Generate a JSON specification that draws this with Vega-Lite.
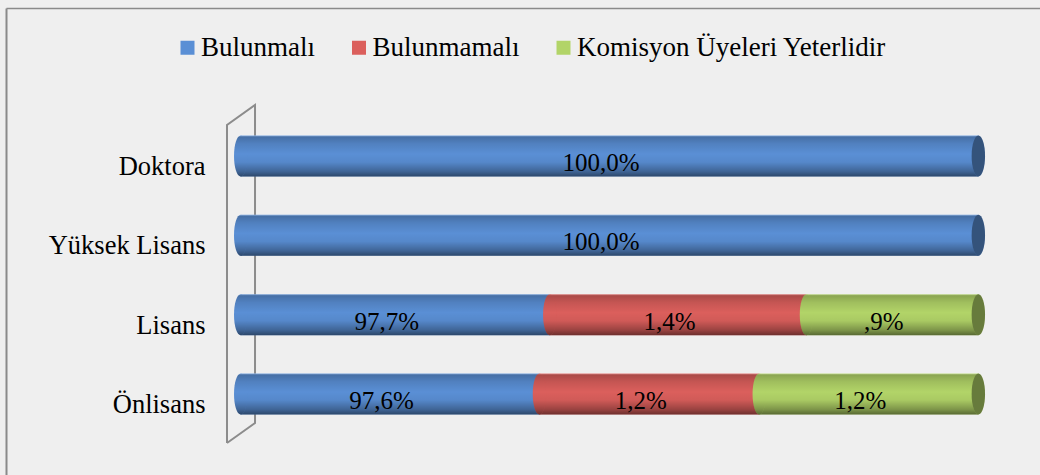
{
  "$schema": "https://vega.github.io/schema/vega-lite/v6.json",
  "autosize": {"type": "none"},
  "width": 1034,
  "height": 467,
  "padding": {"left": 6, "top": 8, "right": 0, "bottom": 0},
  "background": "#efefef",
  "config": {"view": {"stroke": null}, "font": "Liberation Serif"},
  "datasets": {
    "bars": [
      {"level": "Doktora", "series": "Bulunmalı", "length": 100, "label": "100,0%"},
      {"level": "Yüksek Lisans", "series": "Bulunmalı", "length": 100, "label": "100,0%"},
      {"level": "Lisans", "series": "Bulunmalı", "length": 41.9, "label": "97,7%"},
      {"level": "Lisans", "series": "Bulunmamalı", "length": 34.8, "label": "1,4%"},
      {"level": "Lisans", "series": "Komisyon Üyeleri Yeterlidir", "length": 23.3, "label": ",9%"},
      {"level": "Önlisans", "series": "Bulunmalı", "length": 40.5, "label": "97,6%"},
      {"level": "Önlisans", "series": "Bulunmamalı", "length": 29.8, "label": "1,2%"},
      {"level": "Önlisans", "series": "Komisyon Üyeleri Yeterlidir", "length": 29.7, "label": "1,2%"}
    ],
    "wall": [
      {"ord": 1, "wx": -1.86, "wy": 0.0685},
      {"ord": 2, "wx": -1.86, "wy": 0.7495},
      {"ord": 3, "wx": 1.94, "wy": 0.7923},
      {"ord": 4, "wx": 1.94, "wy": 0.1113},
      {"ord": 5, "wx": -1.86, "wy": 0.0685}
    ]
  },
  "resolve": {"scale": {"y": "independent"}, "axis": {"y": "independent"}},
  "layer": [
    {
      "data": {"name": "wall"},
      "mark": {"type": "line", "stroke": "#8c8c8c", "strokeWidth": 2},
      "encoding": {
        "x": {"field": "wx", "type": "quantitative", "scale": {"domain": [-31.82, 108.36], "nice": false, "zero": false},
              "axis": {"orient": "top", "title": null, "labels": false, "ticks": false, "grid": false, "domain": true, "domainColor": "#8a8a8a", "domainWidth": 1.5}},
        "y": {"field": "wy", "type": "quantitative", "scale": {"domain": [0, 1], "nice": false, "zero": false}, "axis": null},
        "order": {"field": "ord", "type": "quantitative"}
      }
    },
    {
      "data": {"name": "bars"},
      "transform": [
        {"stack": "length", "groupby": ["level"], "sort": [{"field": "series", "order": "ascending"}], "as": ["x0", "x1"]},
        {"calculate": "(datum.x0 + datum.x1) / 2", "as": "xm"}
      ],
      "encoding": {
        "y": {"field": "level", "type": "nominal",
              "scale": {"type": "band", "domain": ["Doktora", "Yüksek Lisans", "Lisans", "Önlisans"], "paddingInner": 0.113, "paddingOuter": 1, "align": 0.711},
              "axis": {"orient": "left", "title": null, "domain": true, "domainColor": "#8a8a8a", "domainWidth": 2, "ticks": false, "tickSize": 0, "grid": false,
                       "labelPadding": -199, "labelFont": "Liberation Serif", "labelFontSize": 26.5, "labelColor": "#000000", "labelBaseline": "alphabetic", "labelOffset": 19, "labelAlign": "right", "labelLimit": 0}}
      },
      "layer": [
        {
          "mark": {"type": "bar", "stroke": null, "opacity": 1, "height": {"band": 0.5826}},
          "encoding": {
            "x": {"field": "x0", "type": "quantitative", "scale": {"domain": [-31.82, 108.36], "nice": false, "zero": false},
                  "axis": {"orient": "top", "title": null, "labels": false, "ticks": false, "grid": false, "domain": true, "domainColor": "#8a8a8a", "domainWidth": 1.5}},
            "x2": {"field": "x1"},
            "color": {"field": "series", "type": "nominal",
                      "scale": {"domain": ["Bulunmalı", "Bulunmamalı", "Komisyon Üyeleri Yeterlidir"], "range": ["#5a8fd5", "#db5f5c", "#b2d468"]},
                      "legend": {"orient": "none", "legendX": 168, "legendY": 26, "direction": "horizontal", "columns": 3, "title": null,
                                 "symbolType": "square", "symbolSize": 196, "symbolStrokeWidth": 0, "symbolOpacity": 1,
                                 "labelFont": "Liberation Serif", "labelFontSize": 27, "labelColor": "#000000", "labelOffset": 0, "labelLimit": 0, "columnPadding": 30.5, "padding": 0}}
          }
        },
        {
          "mark": {"type": "bar", "stroke": null, "opacity": 1, "height": {"band": 0.5826},
                   "fill": {"gradient": "linear", "x1": 0, "y1": 0, "x2": 0, "y2": 1,
                            "stops": [
                              {"offset": 0, "color": "rgba(255,255,255,0.35)"},
                              {"offset": 0.04, "color": "rgba(0,0,0,0.22)"},
                              {"offset": 0.2, "color": "rgba(0,0,0,0.1)"},
                              {"offset": 0.45, "color": "rgba(0,0,0,0)"},
                              {"offset": 0.65, "color": "rgba(0,0,0,0.05)"},
                              {"offset": 0.88, "color": "rgba(0,0,0,0.3)"},
                              {"offset": 1, "color": "rgba(0,0,0,0.5)"}]}},
          "encoding": {
            "x": {"field": "x0", "type": "quantitative"},
            "x2": {"field": "x1"}
          }
        },
        {
          "mark": {"type": "point", "shape": "M 0.327 0 C 0.327 0.5523 0.1806 1 0 1 C -0.1806 1 -0.327 0.5523 -0.327 0 C -0.327 -0.5523 -0.1806 -1 0 -1 C 0.1806 -1 0.327 -0.5523 0.327 0 Z",
                   "size": 1681, "filled": true, "opacity": 1, "strokeWidth": 0},
          "encoding": {
            "x": {"field": "x0", "type": "quantitative"},
            "color": {"field": "series", "type": "nominal"}
          }
        },
        {
          "mark": {"type": "point", "shape": "M 0.327 0 C 0.327 0.5523 0.1806 1 0 1 C -0.1806 1 -0.327 0.5523 -0.327 0 C -0.327 -0.5523 -0.1806 -1 0 -1 C 0.1806 -1 0.327 -0.5523 0.327 0 Z",
                   "size": 1681, "filled": true, "opacity": 1, "strokeWidth": 0,
                   "fill": {"gradient": "linear", "x1": 0, "y1": 0, "x2": 0, "y2": 1,
                            "stops": [
                              {"offset": 0, "color": "rgba(255,255,255,0.35)"},
                              {"offset": 0.04, "color": "rgba(0,0,0,0.22)"},
                              {"offset": 0.2, "color": "rgba(0,0,0,0.1)"},
                              {"offset": 0.45, "color": "rgba(0,0,0,0)"},
                              {"offset": 0.65, "color": "rgba(0,0,0,0.05)"},
                              {"offset": 0.88, "color": "rgba(0,0,0,0.3)"},
                              {"offset": 1, "color": "rgba(0,0,0,0.5)"}]}},
          "encoding": {
            "x": {"field": "x0", "type": "quantitative"}
          }
        },
        {
          "transform": [{"filter": "datum.x1 > 99.9"}],
          "mark": {"type": "point", "shape": "M 0.327 0 C 0.327 0.5523 0.1806 1 0 1 C -0.1806 1 -0.327 0.5523 -0.327 0 C -0.327 -0.5523 -0.1806 -1 0 -1 C 0.1806 -1 0.327 -0.5523 0.327 0 Z",
                   "size": 1681, "filled": true, "opacity": 1, "strokeWidth": 0},
          "encoding": {
            "x": {"field": "x1", "type": "quantitative"},
            "color": {"field": "series", "type": "nominal"}
          }
        },
        {
          "transform": [{"filter": "datum.x1 > 99.9"}],
          "mark": {"type": "point", "shape": "M 0.327 0 C 0.327 0.5523 0.1806 1 0 1 C -0.1806 1 -0.327 0.5523 -0.327 0 C -0.327 -0.5523 -0.1806 -1 0 -1 C 0.1806 -1 0.327 -0.5523 0.327 0 Z",
                   "size": 1681, "filled": true, "fill": "#000000", "opacity": 0.42, "strokeWidth": 0},
          "encoding": {
            "x": {"field": "x1", "type": "quantitative"}
          }
        },
        {
          "mark": {"type": "text", "font": "Liberation Serif", "fontSize": 25, "color": "#000000", "baseline": "alphabetic", "align": "center", "dy": 15, "dx": -8.5},
          "encoding": {
            "x": {"field": "xm", "type": "quantitative"},
            "text": {"field": "label", "type": "nominal"}
          }
        }
      ]
    }
  ]
}
